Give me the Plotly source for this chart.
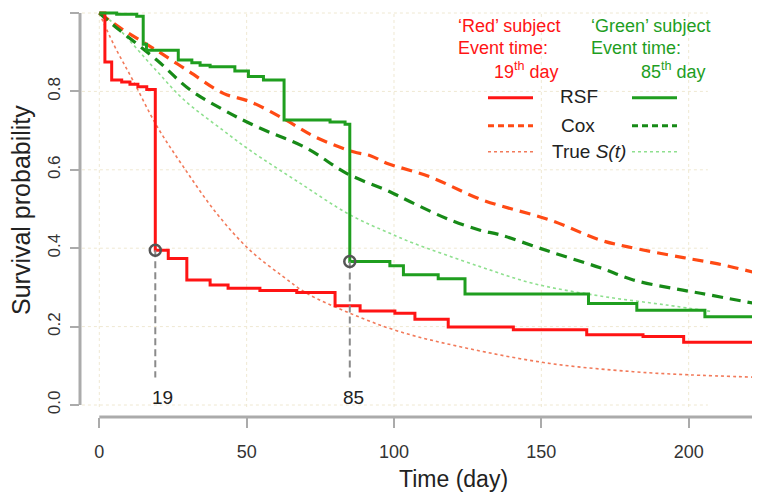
import plotly.graph_objects as go

# ---------------- data ----------------
red_rsf_t = [0, 1.9, 4.2, 7.6, 10.4, 13.1, 16.1, 19, 23.4, 29.7, 37.6, 43.7, 54.5, 67, 80, 88.5,
             100.3, 107.1, 118.4, 140.5, 165.4, 184.5, 198.3, 222.5]
red_rsf_s = [1.0, 0.875, 0.829, 0.824, 0.818, 0.812, 0.805, 0.395, 0.374, 0.319, 0.306, 0.298, 0.292,
             0.287, 0.253, 0.240, 0.234, 0.219, 0.199, 0.192, 0.179, 0.175, 0.160, 0.160]

green_rsf_t = [0, 5.9, 12.7, 14.9, 16.0, 26.8, 31.4, 34.2, 37.6, 46, 50.6, 55.7, 62.7, 78.3, 83.4, 85,
               98.6, 103.2, 115, 124.1, 166, 182.4, 205.5, 222.5]
green_rsf_s = [1.0, 0.997, 0.992, 0.92, 0.905, 0.880, 0.873, 0.867, 0.863, 0.852, 0.838, 0.829, 0.727,
               0.722, 0.716, 0.366, 0.355, 0.332, 0.322, 0.283, 0.259, 0.242, 0.225, 0.225]

red_cox_t = [0, 8.1, 18.3, 30, 42.1, 51.1, 62.4, 73.2, 86.2, 92, 97.5, 112.2, 130, 152.9, 169.9, 179,
             198.2, 210, 222.5]
red_cox_s = [1.0, 0.957, 0.910, 0.853, 0.795, 0.774, 0.731, 0.684, 0.646, 0.636, 0.617, 0.582, 0.523,
             0.472, 0.421, 0.404, 0.376, 0.360, 0.338]

green_cox_t = [0, 4.8, 19.5, 30.8, 42.1, 53.4, 70.4, 83.9, 98.6, 106.5, 119, 129.2, 136, 153, 170,
               181.2, 198, 204, 222.5]
green_cox_s = [1.0, 0.969, 0.880, 0.804, 0.753, 0.710, 0.655, 0.591, 0.544, 0.515, 0.472, 0.446, 0.434,
               0.391, 0.350, 0.319, 0.293, 0.285, 0.259]

red_true_t = [0, 5, 11.5, 19.5, 28.5, 39.8, 51.1, 62.5, 70.4, 85.1, 102, 124.7, 152.9, 181.2, 200, 222.5]
red_true_s = [1.0, 0.918, 0.827, 0.712, 0.608, 0.489, 0.395, 0.327, 0.285, 0.234, 0.187, 0.145, 0.106,
              0.085, 0.077, 0.071]

green_true_t = [0, 3.6, 19.5, 28.5, 42.1, 51.1, 68.1, 85.1, 98.6, 106.5, 129.2, 147.3, 170, 192.5, 208.2]
green_true_s = [1.0, 0.982, 0.852, 0.780, 0.700, 0.650, 0.566, 0.485, 0.438, 0.413, 0.353, 0.310, 0.278,
                0.255, 0.238]

event_t = [19, 85]
event_s = [0.395, 0.366]
event_labels = ["19", "85"]
event_label_t = [21.6, 86.2]

x_ticks = [0, 50, 100, 150, 200]
y_ticks = [0.0, 0.2, 0.4, 0.6, 0.8, 1.0]
y_ticktext = ["0.0", "0.2", "0.4", "0.6", "0.8", "1.0"]

# ---------------- styling ----------------
RED = "#ff1414"
RED_COX = "#ff4a14"
RED_TRUE = "#f27a5a"
GREEN = "#1f9e1f"
GREEN_COX = "#178a17"
GREEN_TRUE = "#8fe08f"
AXIS_GRAY = "#ababab"
GRID = "#efe8d2"
FONT = "Liberation Sans, Arial, sans-serif"

OFF = 8  # page body margin offset
W, H = 760 - OFF, 494 - OFF
ML, MR, MT, MB = 80 - OFF, 0, 0, 77
PW, PH = W - ML - MR, H - MT - MB


def px_x(p):
    # page pixel -> paper x
    return (p - OFF - ML) / PW


def px_y(p):
    # page pixel -> paper y
    return (H - MB - (p - OFF)) / PH


fig = go.Figure()

# true S(t) (dotted)
fig.add_trace(go.Scatter(x=red_true_t, y=red_true_s, mode="lines", line_shape="spline",
                         line=dict(color=RED_TRUE, width=1.6, dash="dot"), showlegend=False))
fig.add_trace(go.Scatter(x=green_true_t, y=green_true_s, mode="lines", line_shape="spline",
                         line=dict(color=GREEN_TRUE, width=1.6, dash="dot"), showlegend=False))
# Cox (dashed)
fig.add_trace(go.Scatter(x=red_cox_t, y=red_cox_s, mode="lines", line_shape="spline",
                         line=dict(color=RED_COX, width=3.2, dash="11px,7px"), showlegend=False))
fig.add_trace(go.Scatter(x=green_cox_t, y=green_cox_s, mode="lines", line_shape="spline",
                         line=dict(color=GREEN_COX, width=3.2, dash="11px,7px"), showlegend=False))
# RSF (steps)
fig.add_trace(go.Scatter(x=red_rsf_t, y=red_rsf_s, mode="lines", line_shape="hv",
                         line=dict(color=RED, width=3), showlegend=False))
fig.add_trace(go.Scatter(x=green_rsf_t, y=green_rsf_s, mode="lines", line_shape="hv",
                         line=dict(color=GREEN, width=3), showlegend=False))

# event markers: dashed drop lines + circles
for t, s in zip(event_t, event_s):
    fig.add_trace(go.Scatter(x=[t, t], y=[s, 0.07], mode="lines",
                             line=dict(color="#8a8a8a", width=2, dash="7px,4px"), showlegend=False))
fig.add_trace(go.Scatter(x=event_t, y=event_s, mode="markers",
                         marker=dict(symbol="circle-open", size=11, color="#555555",
                                     line=dict(width=2.5, color="#555555")),
                         showlegend=False))

shapes = []
# grid
for yv in y_ticks:
    shapes.append(dict(type="line", xref="x", yref="y", x0=-5.9, x1=206.5, y0=yv, y1=yv,
                       line=dict(color=GRID, width=1, dash="dot"), layer="below"))
for xv in x_ticks:
    shapes.append(dict(type="line", xref="x", yref="y", x0=xv, x1=xv, y0=-0.005, y1=1.0,
                       line=dict(color=GRID, width=1, dash="dot"), layer="below"))
# R-style detached axis lines
shapes.append(dict(type="line", xref="paper", yref="y", x0=0, x1=0, y0=0, y1=1,
                   line=dict(color=AXIS_GRAY, width=3)))
shapes.append(dict(type="line", xref="x", yref="paper", x0=0, x1=223.1, y0=0, y1=0,
                   line=dict(color=AXIS_GRAY, width=3)))

# legend samples
leg_rows = [(97.7, None, 3), (125.7, "6px,4px", 3), (151.7, "dot", 1.6)]
red_cols = [RED, RED_COX, RED_TRUE]
green_cols = [GREEN, GREEN_COX, GREEN_TRUE]
for (ypx, dash, w), rc, gc in zip(leg_rows, red_cols, green_cols):
    for col, xa, xb in ((rc, 488, 533), (gc, 632, 677)):
        ln = dict(color=col, width=w)
        if dash:
            ln["dash"] = dash
        shapes.append(dict(type="line", xref="paper", yref="paper", x0=px_x(xa), x1=px_x(xb),
                           y0=px_y(ypx), y1=px_y(ypx), line=ln))

annotations = []


def txt(text, xp, yp, color, size=18, anchor="left"):
    annotations.append(dict(text=text, xref="paper", yref="paper", x=px_x(xp), y=px_y(yp),
                            xanchor=anchor, yanchor="middle", showarrow=False,
                            font=dict(family=FONT, size=size, color=color)))


txt("\u2018Red\u2019 subject", 456, 26, RED)
txt("Event time:", 456, 48, RED)
txt("19<sup>th</sup> day", 561, 70, RED, anchor="right")
txt("\u2018Green\u2019 subject", 589, 26, GREEN)
txt("Event time:", 589, 48, GREEN)
txt("85<sup>th</sup> day", 708, 70, GREEN, anchor="right")
txt("RSF", 579, 97, "#222222", size=19, anchor="center")
txt("Cox", 578, 125, "#222222", size=19, anchor="center")
txt("True <i>S(t)</i>", 589, 151, "#222222", size=19, anchor="center")

# event labels
for t, lab in zip(event_label_t, event_labels):
    annotations.append(dict(text=lab, xref="x", yref="paper", x=t, y=px_y(397),
                            xanchor="center", yanchor="middle", showarrow=False,
                            font=dict(family=FONT, size=19, color="#222222")))

# axis titles
annotations.append(dict(text="Time (day)", xref="paper", yref="paper", x=px_x(453), y=px_y(479),
                        xanchor="center", yanchor="middle", showarrow=False,
                        font=dict(family=FONT, size=23, color="#222222")))
annotations.append(dict(text="Survival probability", xref="paper", yref="paper", x=px_x(21),
                        y=px_y(210), xanchor="center", yanchor="middle", textangle=-90,
                        showarrow=False, font=dict(family=FONT, size=25, color="#222222")))

y_top = (405 - OFF) / 392.0
fig.update_layout(
    width=W, height=H,
    margin=dict(l=ML, r=MR, t=MT, b=MB, pad=0),
    paper_bgcolor="white", plot_bgcolor="white",
    font=dict(family=FONT, color="#333333"),
    shapes=shapes, annotations=annotations,
    xaxis=dict(range=[-6.55, 224.2], showgrid=False, zeroline=False, showline=False,
               ticks="outside", ticklen=10, tickwidth=2, tickcolor=AXIS_GRAY,
               tickvals=x_ticks, tickfont=dict(size=18, color="#333333"),
               ticklabelstandoff=8),
    yaxis=dict(range=[-0.0306, y_top], showgrid=False, zeroline=False, showline=False,
               ticks="outside", ticklen=9, tickwidth=2, tickcolor=AXIS_GRAY,
               tickvals=y_ticks, ticktext=y_ticktext, tickangle=-90,
               tickfont=dict(size=17, color="#333333"), ticklabelstandoff=3),
)

fig.write_html("out.html")
